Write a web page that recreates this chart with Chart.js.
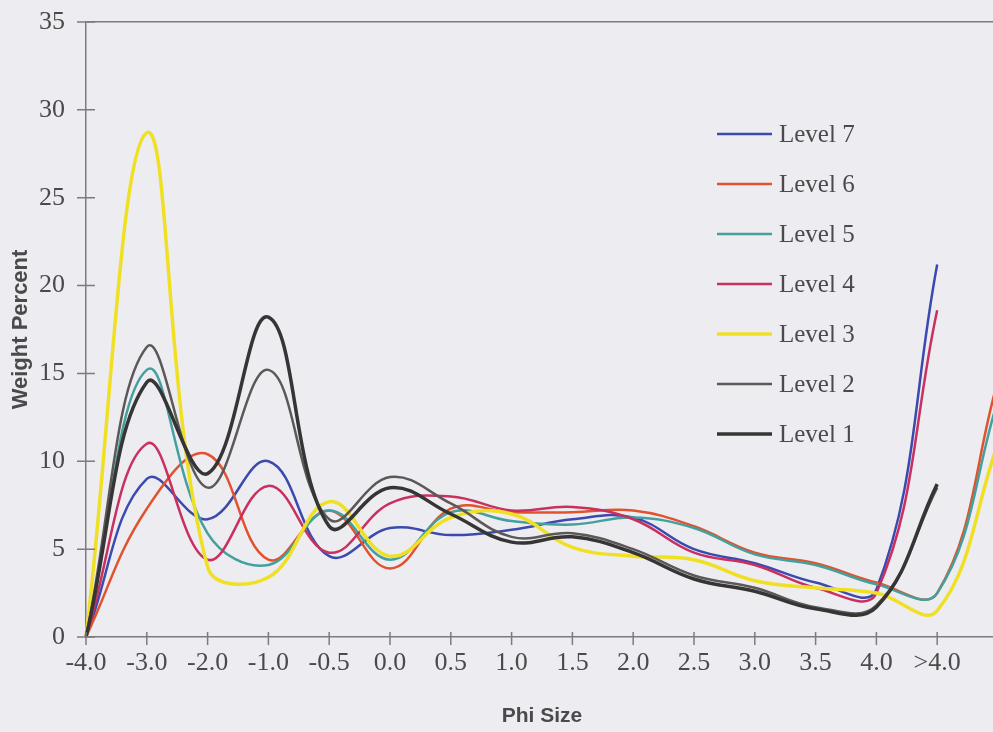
<!DOCTYPE html>
<html>
<head>
<meta charset="utf-8">
<title>Weight Percent by Phi Size</title>
<script src="https://cdn.jsdelivr.net/npm/chart.js@4.4.1/dist/chart.umd.min.js"></script>
<style>
  html, body { margin: 0; padding: 0; background: #edecf0; overflow: hidden; }
  canvas { display: block; }
</style>
</head>
<body>
<canvas id="chart" width="1000" height="732"></canvas>
<script>
// Phi size classes; the last, unlabeled class sits at the right frame edge.
const phiSizes = ['-4.0', '-3.0', '-2.0', '-1.0', '-0.5', '0.0', '0.5', '1.0', '1.5', '2.0', '2.5', '3.0', '3.5', '4.0', '>4.0', ''];

// Weight percent retained per sieve class, one array per level.
const level7 = [0, 9.0, 6.7, 10.0, 4.6, 6.2, 5.8, 6.1, 6.7, 6.8, 5.0, 4.2, 3.1, 2.7, 21.2, null];
const level6 = [0, 7.3, 10.4, 4.4, 7.2, 3.9, 7.3, 7.1, 7.1, 7.2, 6.3, 4.8, 4.2, 3.1, 2.5, 14.6];
const level5 = [0, 15.2, 5.9, 4.1, 7.2, 4.4, 7.1, 6.6, 6.4, 6.8, 6.2, 4.7, 4.1, 3.0, 2.5, 13.5];
const level4 = [0, 11.0, 4.4, 8.6, 4.8, 7.6, 8.0, 7.2, 7.4, 6.7, 4.8, 4.1, 2.8, 2.5, 18.6, null];
const level3 = [0, 28.7, 4.0, 3.4, 7.7, 4.6, 6.8, 7.0, 5.1, 4.6, 4.4, 3.2, 2.8, 2.5, 1.5, 11.0];
const level2 = [0, 16.5, 8.5, 15.2, 6.7, 9.1, 7.6, 5.7, 5.9, 5.0, 3.5, 2.8, 1.7, 1.8, 8.5, null];
const level1 = [0, 14.5, 9.3, 18.2, 6.3, 8.5, 7.0, 5.4, 5.7, 4.8, 3.3, 2.6, 1.6, 1.7, 8.7, null];

const yTicks = [0, 5, 10, 15, 20, 25, 30, 35];

const series = [
  { label: 'Level 7', data: level7, color: '#3b4aae', width: 2.5 },
  { label: 'Level 6', data: level6, color: '#e0532e', width: 2.5 },
  { label: 'Level 5', data: level5, color: '#44a09c', width: 2.5 },
  { label: 'Level 4', data: level4, color: '#c9305f', width: 2.5 },
  { label: 'Level 3', data: level3, color: '#f0e024', width: 3.5 },
  { label: 'Level 2', data: level2, color: '#5c5858', width: 2.5 },
  { label: 'Level 1', data: level1, color: '#363434', width: 3.5 }
];

const axisColor = '#7c7c80';
const textColor = '#4a4a4c';
const serif = '"Liberation Serif", "Times New Roman", serif';
const sans = '"Liberation Sans", Arial, sans-serif';

// Excel-style tick marks that cross the axis lines.
const crossTicks = {
  id: 'crossTicks',
  afterDatasetsDraw(chart) {
    const { ctx, chartArea, scales } = chart;
    ctx.save();
    ctx.strokeStyle = axisColor;
    ctx.lineWidth = 1.5;
    ctx.beginPath();
    scales.y.ticks.forEach((t, i) => {
      const py = scales.y.getPixelForTick(i);
      ctx.moveTo(chartArea.left - 9, py);
      ctx.lineTo(chartArea.left + 9, py);
    });
    scales.x.ticks.forEach((t, i) => {
      const px = scales.x.getPixelForTick(i);
      ctx.moveTo(px, chartArea.bottom - 5);
      ctx.lineTo(px, chartArea.bottom + 8);
    });
    ctx.stroke();
    ctx.restore();
  }
};

// Legend column inside the plot, one row per level.
const sideLegend = {
  id: 'sideLegend',
  afterDraw(chart) {
    const ctx = chart.ctx;
    ctx.save();
    ctx.font = '25px ' + serif;
    ctx.textBaseline = 'middle';
    ctx.fillStyle = textColor;
    chart.data.datasets.forEach((ds, i) => {
      const yy = 134 + i * 50;
      ctx.strokeStyle = ds.borderColor;
      ctx.lineWidth = ds.borderWidth;
      ctx.beginPath();
      ctx.moveTo(717, yy);
      ctx.lineTo(772, yy);
      ctx.stroke();
      ctx.fillText(ds.label, 779, yy + 1);
    });
    ctx.restore();
  }
};

new Chart(document.getElementById('chart'), {
  type: 'line',
  data: {
    labels: phiSizes,
    datasets: series.map((s, i) => ({
      label: s.label,
      data: s.data,
      borderColor: s.color,
      backgroundColor: s.color,
      borderWidth: s.width,
      pointRadius: 0,
      pointHoverRadius: 0,
      tension: 0.4,
      fill: false,
      spanGaps: false,
      order: series.length - 1 - i
    }))
  },
  options: {
    responsive: false,
    animation: false,
    events: [],
    layout: { padding: { top: 22, right: 2, bottom: 0, left: 0 } },
    plugins: {
      legend: { display: false },
      tooltip: { enabled: false }
    },
    scales: {
      x: {
        type: 'category',
        offset: false,
        grid: { display: false, drawTicks: false },
        border: { display: true, color: axisColor, width: 1.5 },
        ticks: {
          autoSkip: false,
          maxRotation: 0,
          padding: 11,
          color: textColor,
          font: { family: serif, size: 26 }
        },
        title: {
          display: true,
          text: 'Phi Size',
          color: textColor,
          font: { family: sans, size: 21, weight: 'bold' },
          padding: { top: 0, bottom: 3 }
        },
        afterFit(scale) {
          scale.height = 95;
          scale.paddingLeft = 0;
          scale.paddingRight = 0;
        }
      },
      y: {
        min: 0,
        max: 35,
        afterBuildTicks(scale) { scale.ticks = yTicks.map(v => ({ value: v })); },
        grid: {
          drawTicks: false,
          lineWidth: 1.5,
          color: ctx => (ctx.tick && ctx.tick.value === 35 ? axisColor : 'rgba(0,0,0,0)')
        },
        border: { display: true, color: axisColor, width: 1.5 },
        ticks: {
          padding: 21,
          color: textColor,
          font: { family: serif, size: 26 }
        },
        title: {
          display: true,
          text: 'Weight Percent',
          color: textColor,
          font: { family: sans, size: 22, weight: 'bold' },
          padding: { top: 8, bottom: 0 }
        },
        afterFit(scale) {
          scale.width = 86;
          scale.paddingTop = 0;
          scale.paddingBottom = 0;
        }
      }
    }
  },
  plugins: [crossTicks, sideLegend]
});
</script>
</body>
</html>
